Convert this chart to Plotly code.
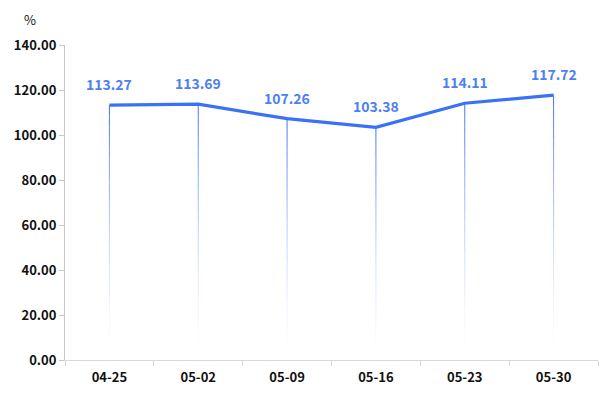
import plotly.graph_objects as go

categories = ["04-25", "05-02", "05-09", "05-16", "05-23", "05-30"]
values = [113.27, 113.69, 107.26, 103.38, 114.11, 117.72]
y_ticks = [0, 20, 40, 60, 80, 100, 120, 140]

LINE = "#3a72f6"
LABEL = "#4d80f2"
FONT = "Noto Sans CJK SC, DejaVu Sans, sans-serif"

fig = go.Figure()

# gradient drop lines: split each into segments of increasing opacity
n_seg = 24
for k in range(n_seg):
    f0 = k / n_seg
    f1 = (k + 1) / n_seg
    alpha = ((k + 0.5) / n_seg) ** 1.6
    xs, ys = [], []
    for c, v in zip(categories, values):
        xs += [c, c, None]
        ys += [v * f0, v * f1, None]
    fig.add_trace(go.Scatter(
        x=xs, y=ys, mode="lines",
        line=dict(color=f"rgba(58,114,246,{alpha:.3f})", width=1),
        hoverinfo="skip", showlegend=False))

fig.add_trace(go.Scatter(
    x=categories, y=values, mode="lines",
    line=dict(color=LINE, width=3.2),
    showlegend=False))

for c, v in zip(categories, values):
    fig.add_annotation(x=c, y=v, text=f"{v:.2f}", showarrow=False,
                       yshift=21, font=dict(family=FONT, size=14, color=LABEL, weight="bold"))

fig.add_annotation(xref="paper", yref="paper", x=-0.065, y=1.08, xanchor="center",
                   yanchor="middle", text="%", showarrow=False, borderpad=0,
                   font=dict(family=FONT, size=13, color="#111"))

# page body has an 8px margin; size the figure so the plot area lands where the reference has it
fig.update_layout(
    width=605, height=387,
    margin=dict(l=57, r=15, t=37, b=35),
    plot_bgcolor="white", paper_bgcolor="white",
    font=dict(family=FONT),
)
fig.update_xaxes(
    type="category", range=[-0.5, 5.5], tickson="boundaries",
    showline=True, linecolor="#d8d8d8", linewidth=1,
    ticks="outside", ticklen=5, tickcolor="#d8d8d8",
    ticklabelstandoff=5,
    showgrid=False, zeroline=False, automargin=False,
    tickfont=dict(family=FONT, size=13, color="#111", weight="bold"),
)
fig.update_yaxes(
    range=[0, 140], tickvals=y_ticks, ticktext=[f"{t:.2f}" for t in y_ticks],
    showline=True, linecolor="#c8c8c8", linewidth=1,
    ticks="outside", ticklen=5, tickcolor="#c8c8c8",
    showgrid=False, zeroline=False, automargin=False,
    tickfont=dict(family=FONT, size=13, color="#111", weight="bold"),
)

fig.write_html("out.html")
